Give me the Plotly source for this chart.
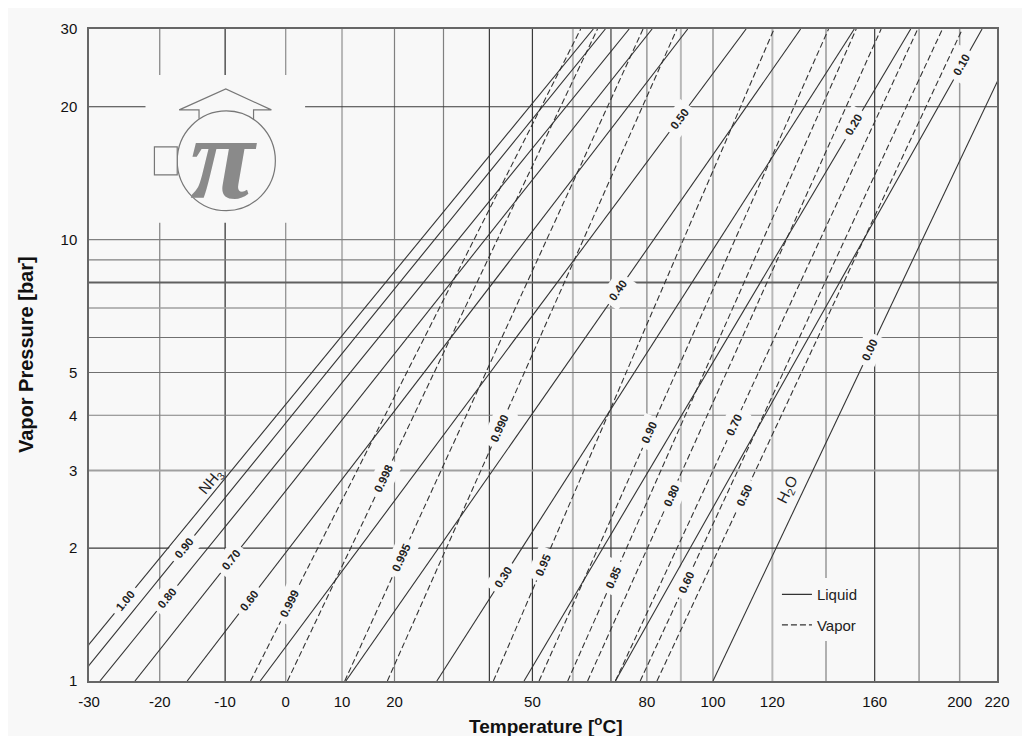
import numpy as np
import plotly.graph_objects as go

# ---------------- data ----------------
# Liquid (solid) lines, NH3 mass fraction: temperature [°C] at 1 bar and at 30 bar (straight in Dühring coordinates)
liq_labels = ["1.00", "0.90", "0.80", "0.70", "0.60", "0.50", "0.40", "0.30", "0.20", "0.10", "0.00"]
liq_T_1bar = [-34.0, -31.7, -28.5, -23.6, -15.9, -4.3, 10.7, 28.6, 48.0, 71.2, 100.0]
liq_T_30bar = [65.3, 68.5, 75.0, 81.5, 92.1, 110.9, 130.3, 151.4, 176.1, 211.8, 234.5]

# Vapor (dashed) lines, NH3 mass fraction in vapor
vap_labels = ["0.999", "0.998", "0.995", "0.990", "0.95", "0.90", "0.85", "0.80", "0.70", "0.60", "0.50"]
vap_T_1bar = [-5.9, 0.3, 10.5, 18.6, 40.9, 51.6, 58.7, 63.8, 71.2, 78.1, 82.9]
vap_T_30bar = [62.0, 66.4, 78.9, 88.8, 120.6, 141.0, 152.2, 162.8, 179.4, 191.3, 201.4]

P_ends = [1.0, 30.0]

# axis ticks
x_tick_T = [-30, -20, -10, 0, 10, 20, 50, 80, 100, 120, 160, 200, 220]
y_tick_P = [1, 2, 3, 4, 5, 10, 20, 30]
grid_T = [-20, -10, 0, 10, 20, 30, 40, 50, 60, 70, 80, 90, 100, 120, 140, 160, 180, 200]
grid_P = [2, 3, 4, 5, 6, 7, 8, 9, 10, 20]

# ---------------- layout helpers (styles / positions) ----------------
def U(T):
    return -1000.0 / (np.asarray(T, dtype=float) + 273.15)

T_MIN, T_MAX = -30, 220
BG = "#f8f8f8"
FONT = "Liberation Sans, Arial, sans-serif"

# page body has an 8px margin: figure is placed at (8, 8)
OFF = 8
FIG_W, FIG_H = 1030 - 2 * OFF, 744 - 2 * OFF
L, R, TOP, BOT = 89, 1005, 28, 681       # plot area in screen pixels

shade_T = {-20: "#808080", -10: "#2a2a2a", 0: "#8a8a8a", 10: "#b8b8b8", 20: "#808080", 30: "#808080",
           40: "#3a3a3a", 50: "#3a3a3a", 60: "#b8b8b8", 70: "#3a3a3a", 80: "#808080", 90: "#b8b8b8",
           100: "#808080", 120: "#b8b8b8", 140: "#808080", 160: "#3a3a3a", 180: "#808080", 200: "#999999"}
width_T = {10: 2, 60: 2, 90: 2, 120: 2, 200: 1.5}
shade_P = {2: "#3a3a3a", 3: "#a0a0a0", 4: "#808080", 5: "#707070", 6: "#707070", 7: "#a0a0a0",
           8: "#606060", 9: "#808080", 10: "#808080", 20: "#3a3a3a"}
width_P = {3: 2, 7: 1.5, 8: 2}

fig = go.Figure()

for i, (lab, t1, t30) in enumerate(zip(liq_labels, liq_T_1bar, liq_T_30bar)):
    fig.add_trace(go.Scatter(x=U([t1, t30]), y=P_ends, mode="lines",
                             line=dict(color="#333333", width=1.1),
                             name="Liquid", legendgroup="liq", showlegend=(i == 0),
                             hoverinfo="skip"))
for i, (lab, t1, t30) in enumerate(zip(vap_labels, vap_T_1bar, vap_T_30bar)):
    fig.add_trace(go.Scatter(x=U([t1, t30]), y=P_ends, mode="lines",
                             line=dict(color="#333333", width=1.1, dash="6px,3px"),
                             name="Vapor", legendgroup="vap", showlegend=(i == 0),
                             hoverinfo="skip"))

def px(xp):
    return (xp - L) / (R - L)
def py(yp):
    return (BOT - yp) / (BOT - TOP)

shapes = []
for t in grid_T:
    shapes.append(dict(type="line", xref="x", yref="paper", x0=float(U(t)), x1=float(U(t)), y0=0, y1=1,
                       line=dict(color=shade_T.get(t, "#808080"), width=width_T.get(t, 1.2)), layer="below"))
for p in grid_P:
    shapes.append(dict(type="line", xref="paper", yref="y", x0=0, x1=1, y0=p, y1=p,
                       line=dict(color=shade_P.get(p, "#808080"), width=width_P.get(p, 1.2)), layer="below"))

# logo
shapes.append(dict(type="rect", xref="paper", yref="paper", x0=px(146), x1=px(307), y0=py(222), y1=py(74),
                   fillcolor=BG, line=dict(width=0), layer="above"))
shapes.append(dict(type="circle", xref="paper", yref="paper", x0=px(178), x1=px(277), y0=py(210), y1=py(110),
                   fillcolor=BG, line=dict(color="#777777", width=1.2), layer="above"))
shapes.append(dict(type="rect", xref="paper", yref="paper", x0=px(155), x1=px(178), y0=py(174), y1=py(146),
                   fillcolor=BG, line=dict(color="#777777", width=1.2), layer="above"))
arrow = "M {},{} L {},{} L {},{} L {},{} L {},{} L {},{} L {},{}".format(
    px(200), py(118), px(200), py(109),
    px(180), py(109), px(227), py(88), px(273), py(109),
    px(255), py(109), px(255), py(119))
shapes.append(dict(type="path", xref="paper", yref="paper", path=arrow,
                   line=dict(color="#777777", width=1.2), layer="above"))

annotations = []
annotations.append(dict(xref="paper", yref="paper", x=px(225), y=py(158), text="<b><i>π</i></b>", showarrow=False,
                        font=dict(family="Liberation Serif, serif", size=118, color="#8a8a8a"),
                        xanchor="center", yanchor="middle"))

# label positions (pressure along line)
liq_label_P = [1.52, 2.0, 1.54, 1.88, 1.52, 18.8, 7.67, 1.72, 18.15, 24.8, 5.61]
vap_label_P = [1.50, 2.88, 1.90, 3.74, 1.83, 3.66, 1.72, 2.63, 3.80, 1.67, 2.63]

def add_labels(labels, T1, T30, Ps):
    for lab, t1, t30, p in zip(labels, T1, T30, Ps):
        u1, u30 = U(t1), U(t30)
        f = np.log10(p) / np.log10(30)
        u = u1 + f * (u30 - u1)
        dx_px = (u30 - u1) / (U(T_MAX) - U(T_MIN)) * (R - L)
        dy_px = (BOT - TOP)
        ang = -np.degrees(np.arctan2(dy_px, dx_px))
        annotations.append(dict(x=float(u), y=float(np.log10(p)), text="<b>" + lab + "</b>", showarrow=False,
                                textangle=float(ang), bgcolor=BG, borderpad=5,
                                font=dict(family=FONT, size=11.5, color="#222222")))

add_labels(liq_labels, liq_T_1bar, liq_T_30bar, liq_label_P)
add_labels(vap_labels, vap_T_1bar, vap_T_30bar, vap_label_P)

annotations.append(dict(xref="paper", yref="paper", x=px(193), y=py(501), text="NH<sub>3</sub>",
                        showarrow=False, textangle=-50, font=dict(family=FONT, size=15, color="#222222")))
annotations.append(dict(xref="paper", yref="paper", x=px(812), y=py(509), text="H<sub>2</sub>O",
                        showarrow=False, textangle=-64, font=dict(family=FONT, size=15, color="#222222")))

annotations.append(dict(xref="paper", yref="paper", x=px(550), y=py(725), text="<b>Temperature [<sup>o</sup>C]</b>",
                        showarrow=False, font=dict(family=FONT, size=19, color="#111111"),
                        xanchor="center", yanchor="middle"))
annotations.append(dict(xref="paper", yref="paper", x=px(25), y=py(354), text="<b>Vapor Pressure [bar]</b>",
                        showarrow=False, textangle=-90, font=dict(family=FONT, size=20, color="#111111"),
                        xanchor="center", yanchor="middle"))

fig.update_layout(
    width=FIG_W, height=FIG_H,
    margin=dict(l=L - OFF, r=FIG_W - (R - OFF), t=TOP - OFF, b=FIG_H - (BOT - OFF)),
    paper_bgcolor=BG, plot_bgcolor=BG,
    font=dict(family=FONT, size=15, color="#222222"),
    shapes=shapes, annotations=annotations,
    legend=dict(x=px(783), y=py(578), xanchor="left", yanchor="top", bgcolor=BG,
                font=dict(family=FONT, size=15, color="#222222"), itemwidth=30,
                tracegroupgap=8),
    xaxis=dict(range=[float(U(T_MIN)), float(U(T_MAX))], tickmode="array",
               tickvals=[float(v) for v in U(x_tick_T)], ticktext=[str(t) for t in x_tick_T],
               showgrid=False, zeroline=False, showline=True, linecolor="#666666", linewidth=1.5,
               mirror=True, ticks="", tickfont=dict(size=15, color="#111111"), ticklabelstandoff=6),
    yaxis=dict(type="log", range=[0, np.log10(30)], tickmode="array",
               tickvals=y_tick_P, ticktext=[str(p) for p in y_tick_P],
               showgrid=False, zeroline=False, showline=True, linecolor="#666666", linewidth=1.5,
               mirror=True, ticks="", tickfont=dict(size=15, color="#111111"), ticklabelstandoff=7),
)

fig.write_html("out.html")
